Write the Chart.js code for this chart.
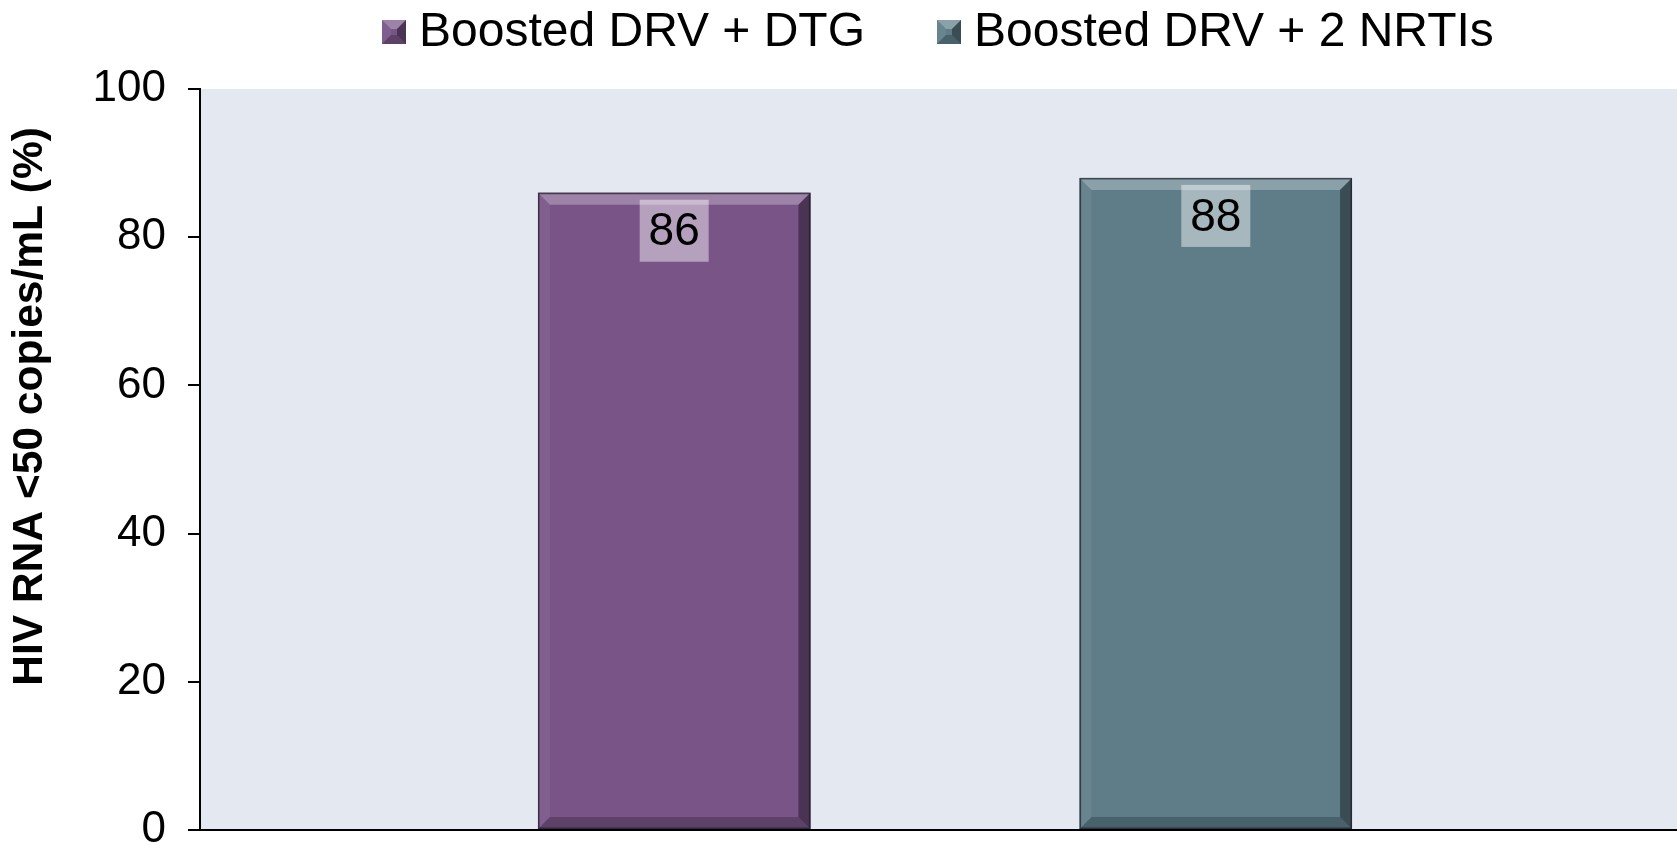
<!DOCTYPE html>
<html>
<head>
<meta charset="utf-8">
<script src="https://cdn.jsdelivr.net/npm/chart.js@4/dist/chart.umd.min.js"></script>
<style>
  html, body { margin: 0; padding: 0; background: #ffffff; overflow: hidden; }
  #wrap { width: 1677px; height: 843px; overflow: hidden; }
</style>
</head>
<body>
<div id="wrap"><canvas id="chart" width="1690" height="843"></canvas></div>
<script>
const categories = [""];
const seriesNames = ["Boosted DRV + DTG", "Boosted DRV + 2 NRTIs"];
const drvDtg = [86];
const drvNrti = [88];
const yTicks = [0, 20, 40, 60, 80, 100];

const purple = "#795487";
const teal = "#5e7d88";
const FONT = "'Liberation Sans', Arial, sans-serif";

// plot background
const plotBg = {
  id: "plotBg",
  beforeDraw(chart) {
    const { ctx, chartArea: a } = chart;
    ctx.save();
    ctx.fillStyle = "#e4e8f1";
    ctx.fillRect(a.left, a.top, a.right - a.left, a.bottom - a.top);
    ctx.restore();
  }
};

const poly = (ctx, pts, fill) => {
  ctx.beginPath();
  ctx.moveTo(pts[0][0], pts[0][1]);
  pts.slice(1).forEach(p => ctx.lineTo(p[0], p[1]));
  ctx.closePath();
  ctx.fillStyle = fill;
  ctx.fill();
};

// rectangle with bevelled edges
const bevelRect = (ctx, l, t, r, b, s, color) => {
  ctx.fillStyle = color;
  ctx.fillRect(l, t, r - l, b - t);
  poly(ctx, [[l, t], [r, t], [r - s, t + s], [l + s, t + s]], "rgba(255,255,255,0.28)");
  poly(ctx, [[r, t], [r, b], [r - s, b - s], [r - s, t + s]], "rgba(0,0,0,0.38)");
  poly(ctx, [[l, b], [r, b], [r - s, b - s], [l + s, b - s]], "rgba(0,0,0,0.22)");
  poly(ctx, [[l, t], [l + s, t + s], [l + s, b - s], [l, b]], "rgba(255,255,255,0.06)");
};

// legend drawn by hand so the gap between the items can be wide
const legendBoxes = [382, 937];
const topLegend = {
  id: "topLegend",
  afterDraw(chart) {
    const ctx = chart.ctx;
    ctx.save();
    chart.data.datasets.forEach((ds, i) => {
      const x = legendBoxes[i];
      bevelRect(ctx, x, 20, x + 24, 44, 9, ds.backgroundColor);
      ctx.fillStyle = "#000";
      ctx.font = "48px " + FONT;
      ctx.textAlign = "left";
      ctx.textBaseline = "middle";
      ctx.fillText(ds.label, x + 37, 33);
    });
    ctx.restore();
  }
};

// bevel edges + value boxes on the bars
const barDeco = {
  id: "barDeco",
  afterDatasetsDraw(chart) {
    const ctx = chart.ctx;
    chart.data.datasets.forEach((ds, i) => {
      chart.getDatasetMeta(i).data.forEach((bar, j) => {
        const l = bar.x - bar.width / 2, r = bar.x + bar.width / 2;
        const t = bar.y, b = bar.base;
        ctx.save();
        bevelRect(ctx, l, t, r, b, 12, ds.backgroundColor);
        ctx.strokeStyle = "rgba(30,30,40,0.7)";
        ctx.lineWidth = 1.5;
        ctx.strokeRect(l + 0.75, t + 0.75, r - l - 1.5, b - t - 1.5);

        // value label
        const w = 69, h = 62;
        ctx.fillStyle = "rgba(255,255,255,0.45)";
        ctx.fillRect(bar.x - w / 2, t + 7, w, h);
        ctx.fillStyle = "#000";
        ctx.font = "46px " + FONT;
        ctx.textAlign = "center";
        ctx.textBaseline = "middle";
        ctx.fillText(ds.data[j], bar.x, t + 7 + h / 2 + 2);
        ctx.restore();
      });
    });
  }
};

new Chart(document.getElementById("chart"), {
  type: "bar",
  data: {
    labels: categories,
    datasets: [
      { label: seriesNames[0], data: drvDtg, backgroundColor: purple },
      { label: seriesNames[1], data: drvNrti, backgroundColor: teal }
    ]
  },
  options: {
    responsive: false,
    animation: false,
    categoryPercentage: 0.727,
    barPercentage: 0.503,
    layout: { padding: { top: 89, right: 0, bottom: 0, left: 0 } },
    plugins: {
      legend: { display: false },
      tooltip: { enabled: false }
    },
    scales: {
      x: {
        grid: { display: false },
        ticks: { display: false },
        afterFit: (axis) => { axis.height = 13; },
        border: { color: "#000", width: 2 }
      },
      y: {
        min: 0,
        max: 100,
        afterBuildTicks: (axis) => { axis.ticks = yTicks.map(v => ({ value: v })); },
        afterFit: (axis) => {
          axis.width = 200;
          axis.paddingTop = 0;
          axis.paddingBottom = 0;
        },
        ticks: {
          color: "#000",
          padding: 22,
          font: { family: FONT, size: 44 }
        },
        grid: { drawOnChartArea: false, color: "#000", lineWidth: 2, tickLength: 12 },
        border: { color: "#000", width: 2 },
        title: {
          display: true,
          text: "         HIV RNA <50 copies/mL (%)",
          color: "#000",
          font: { family: FONT, size: 42.5, weight: "bold" },
          padding: { top: 5, bottom: 0 }
        }
      }
    }
  },
  plugins: [plotBg, barDeco, topLegend]
});
</script>
</body>
</html>
